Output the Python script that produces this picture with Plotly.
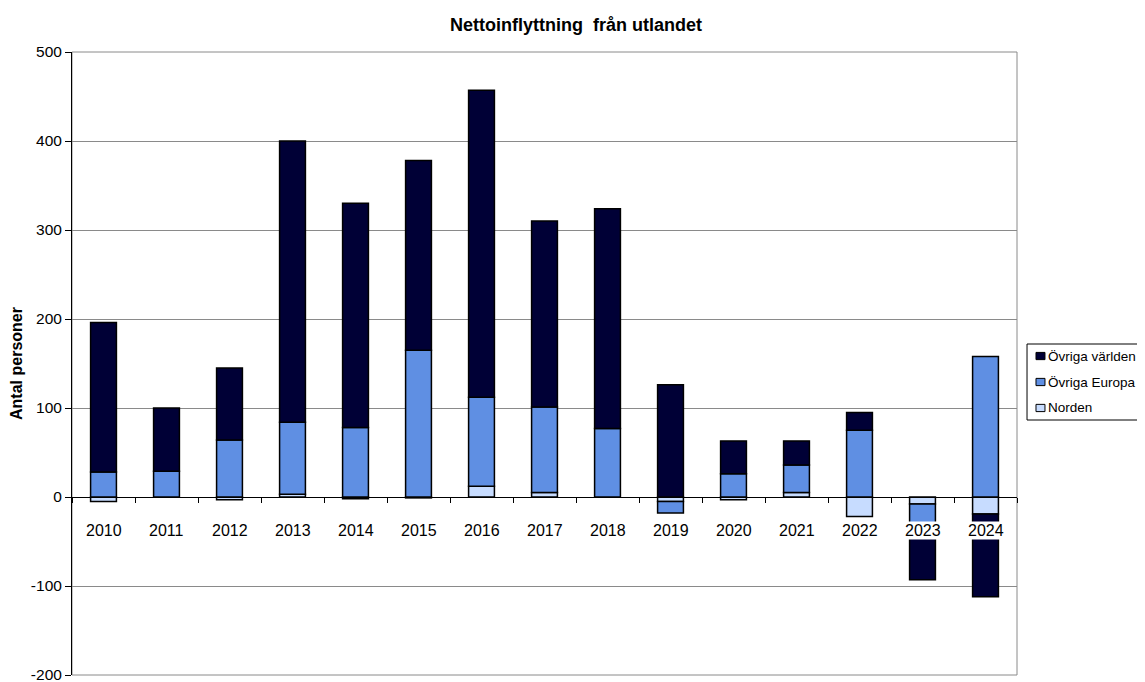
import plotly.graph_objects as go

years = ["2010", "2011", "2012", "2013", "2014", "2015", "2016", "2017",
         "2018", "2019", "2020", "2021", "2022", "2023", "2024"]
norden = [-5, 0, -3, 3, -2, -1, 12, 5, 0, -5, -3, 5, -22, -8, -19]
ovriga_europa = [28, 29, 64, 81, 78, 165, 100, 96, 77, -13, 26, 31, 75, -22, 158]
ovriga_varlden = [168, 71, 81, 316, 252, 213, 345, 209, 247, 126, 37, 27, 20, -63, -93]

y_ticks = [-200, -100, 0, 100, 200, 300, 400, 500]
y_tick_labels = ["-200", "-100", "0", "100", "200", "300", "400", "500"]

y_min, y_max = -200, 500
FONT = "Arial, Liberation Sans, sans-serif"

series = [("Norden", norden, "#C7DCFF"),
          ("Övriga Europa", ovriga_europa, "#5F8FE3"),
          ("Övriga världen", ovriga_varlden, "#000036")]

fig = go.Figure()
for name, vals, col in series:
    fig.add_trace(go.Bar(x=years, y=vals, name=name, showlegend=False,
                         marker=dict(color=col, line=dict(color="#000000", width=1.5))))

# category labels sitting on the zero line, with white background like the original
for i, yr in enumerate(years):
    fig.add_annotation(x=i, y=0, xref="x", yref="y", text=yr, showarrow=False,
                       yshift=-33, bgcolor="white", borderpad=0,
                       font=dict(family=FONT, size=16, color="#000000"))

# legend box (drawn manually to match the compact original legend)
fig.add_shape(type="rect", xref="paper", yref="paper", x0=1.0106, x1=1.145,
              y0=0.4093, y1=0.5313, line=dict(color="#000000", width=1),
              fillcolor="white")
row_y = [0.5120, 0.4703, 0.4286]
for (name, _, col), ry in zip(reversed(series), row_y):
    fig.add_shape(type="rect", xref="paper", yref="paper", x0=1.0201, x1=1.0296,
                  y0=ry - 0.0058, y1=ry + 0.0058,
                  line=dict(color="#000000", width=1), fillcolor=col)
    fig.add_annotation(xref="paper", yref="paper", x=1.0307, y=ry, text=name,
                       xanchor="left", yanchor="middle", showarrow=False,
                       font=dict(family=FONT, size=13.5, color="#000000"))

fig.update_layout(
    width=1145, height=682,
    margin=dict(l=64, r=136, t=44, b=15, autoexpand=False),
    paper_bgcolor="white", plot_bgcolor="white",
    barmode="relative", bargap=0.59,
    title=dict(text="<b>Nettoinflyttning  från utlandet</b>", x=0.496, xref="container",
               y=0.975, yanchor="middle",
               font=dict(family=FONT, size=18, color="#000000")),
    font=dict(family=FONT, size=15, color="#000000"),
    showlegend=False,
)

fig.update_xaxes(type="category", range=[-0.5, len(years) - 0.5],
                 anchor="free", position=(0 - y_min) / (y_max - y_min),
                 showline=True, linecolor="#000000", linewidth=1,
                 ticks="outside", tickson="boundaries", ticklen=5, tickcolor="#000000",
                 showticklabels=False, showgrid=False, zeroline=False, automargin=False)

fig.update_yaxes(range=[y_min, y_max], tickmode="array", tickvals=y_ticks, ticktext=y_tick_labels,
                 showline=True, linecolor="#000000", linewidth=1,
                 ticks="outside", ticklen=6, tickcolor="#000000",
                 showgrid=True, gridcolor="#8a8a8a", gridwidth=1, zeroline=False,
                 tickfont=dict(family=FONT, size=15.5), automargin=False,
                 title=dict(text="<b>Antal personer</b>", standoff=9,
                            font=dict(family=FONT, size=16)))

fig.add_shape(type="rect", xref="paper", yref="paper", x0=0, x1=1, y0=0, y1=1,
              line=dict(color="#8a8a8a", width=1), layer="below")

fig.write_html("out.html")
